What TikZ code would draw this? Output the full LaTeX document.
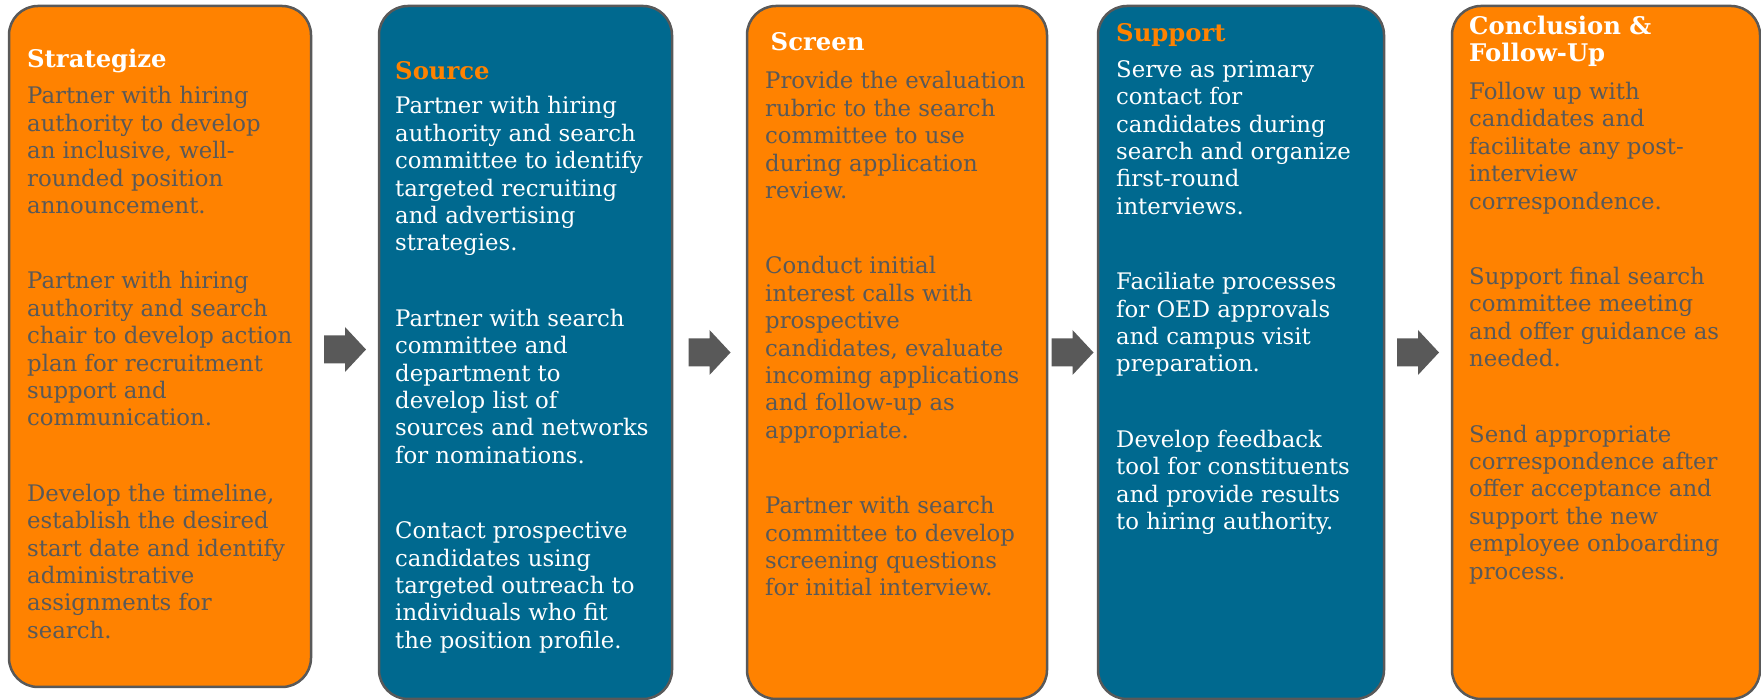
\documentclass[tikz,border=0pt]{standalone}
\usepackage{fontspec}
\setmainfont{DejaVu Serif}
\usetikzlibrary{calc}
\definecolor{ora}{HTML}{FF8200}
\definecolor{blu}{HTML}{00698F}
\definecolor{gry}{HTML}{595959}
\newcommand\bodysz{\fontsize{22.8pt}{27.4pt}\selectfont}
\newcommand\titlesz{\fontsize{24.3pt}{26.7pt}\selectfont\bfseries}
\newcommand\blk[1]{\vtop{\hsize=400pt\parindent=0pt\parskip=0pt\rightskip=0pt plus 1fil\bodysz #1}}
\newcommand\ttl[1]{\vtop{\hsize=400pt\parindent=0pt\parskip=0pt\rightskip=0pt plus 1fil\titlesz #1}}
\newcommand\psep{\par\vskip48pt\relax}
\tikzset{
  stagebox/.style={draw=gry, line width=2.5pt, rounded corners=29pt, inner sep=0pt},
  txt/.style={anchor=base west, inner sep=0pt},
  barrow/.pic={\fill[gry] (-21,-14) -- (0,-14) -- (0,-22.5) -- (21,0) -- (0,22.5) -- (0,14) -- (-21,14) -- cycle;}
}
\begin{document}
\begin{tikzpicture}[x=1pt,y=1pt]
\useasboundingbox (0,0) rectangle (1761,700);
% boxes
\node[stagebox, fill=ora, minimum width=302pt, minimum height=681pt] (b1) at (160,353.5) {};
\node[stagebox, fill=blu, minimum width=293pt, minimum height=693pt] (b2) at (525.5,347.5) {};
\node[stagebox, fill=ora, minimum width=300pt, minimum height=693pt] (b3) at (897,347.5) {};
\node[stagebox, fill=blu, minimum width=286pt, minimum height=693pt] (b4) at (1241,347.5) {};
\node[stagebox, fill=ora, minimum width=308pt, minimum height=693pt] (b5) at (1606,347.5) {};
% arrows
\coordinate (a1) at ($(b1.east)!0.5!(b2.west)$);
\coordinate (a2) at ($(b2.east)!0.5!(b3.west)$);
\coordinate (a3) at ($(b3.east)!0.5!(b4.west)$);
\coordinate (a4) at ($(b4.east)!0.5!(b5.west)$);
\pic at (a1) {barrow};
\pic at (a2) {barrow};
\pic at (a3) {barrow};
\pic at (a4) {barrow};
% box 1
\node[txt, text=white] (t1) at (27,632) {\ttl{Strategize}};
\node[txt, text=gry] (x1) at (27,596) {\blk{Partner with hiring\\authority to develop\\an inclusive, well-\\rounded position\\announcement.\psep
Partner with hiring\\authority and search\\chair to develop action\\plan for recruitment\\support and\\communication.\psep
Develop the timeline,\\establish the desired\\start date and identify\\administrative\\assignments for\\search.}};
% box 2
\node[txt, text=ora] (t2) at (395,620.7) {\ttl{Source}};
\node[txt, text=white] (x2) at (395,586) {\blk{Partner with hiring\\authority and search\\committee to identify\\targeted recruiting\\and advertising\\strategies.\psep
Partner with search\\committee and\\department to\\develop list of\\sources and networks\\for nominations.\psep
Contact prospective\\candidates using\\targeted outreach to\\individuals who fit\\the position profile.}};
% box 3
\node[txt, text=white] (t3) at (770.5,649) {\ttl{Screen}};
\node[txt, text=gry] (x3) at (765,611) {\blk{Provide the evaluation\\rubric to the search\\committee to use\\during application\\review.\psep
Conduct initial\\interest calls with\\prospective\\candidates, evaluate\\incoming applications\\and follow-up as\\appropriate.\psep
Partner with search\\committee to develop\\screening questions\\for initial interview.}};
% box 4
\node[txt, text=ora] (t4) at (1116,658.3) {\ttl{Support}};
\node[txt, text=white] (x4) at (1116,622.7) {\blk{Serve as primary\\contact for\\candidates during\\search and organize\\first-round\\interviews.\psep
Faciliate processes\\for OED approvals\\and campus visit\\preparation.\psep
Develop feedback\\tool for constituents\\and provide results\\to hiring authority.}};
% box 5
\node[txt, text=white] (t5) at (1469,665) {\ttl{Conclusion \&\\Follow-Up}};
\node[txt, text=gry] (x5) at (1469,600.5) {\blk{Follow up with\\candidates and\\facilitate any post-\\interview\\correspondence.\psep
Support final search\\committee meeting\\and offer guidance as\\needed.\psep
Send appropriate\\correspondence after\\offer acceptance and\\support the new\\employee onboarding\\process.}};
\end{tikzpicture}
\end{document}
